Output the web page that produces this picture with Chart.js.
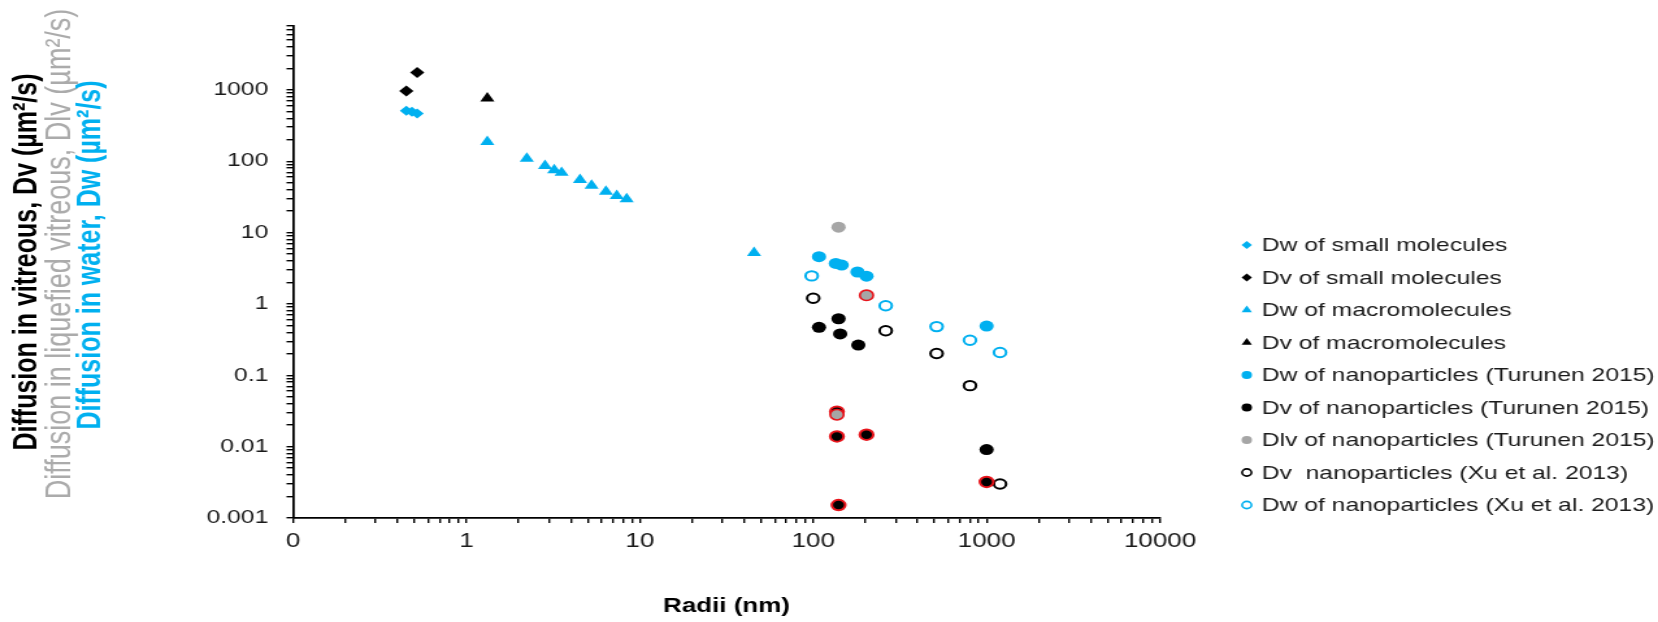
<!DOCTYPE html>
<html>
<head>
<meta charset="utf-8">
<script src="https://cdn.jsdelivr.net/npm/chart.js@4.4.1/dist/chart.umd.min.js"></script>
<style>
html,body{margin:0;padding:0;background:#fff;overflow:hidden;}
#wrap{position:absolute;left:0;top:0;width:1276px;height:622px;transform:scaleX(1.2994);transform-origin:0 0;}
</style>
</head>
<body>
<div id="wrap"><canvas id="c"></canvas></div>
<script>
const FONT = '"Liberation Sans", Arial, Helvetica, sans-serif';

// Tick labels (one per decade)
const xTickLabels = ['0', '1', '10', '100', '1000', '10000'];      // 0.1 ... 10000
const yTickLabels = ['0.001', '0.01', '0.1', '1', '10', '100', '1000'];

// Axis titles
const xTitle = 'Radii (nm)';
const yTitleBlack = 'Diffusion in vitreous, Dv (µm²/s)';
const yTitleGrey = 'Diffusion in liquefied vitreous, Dlv (µm²/s)';
const yTitleBlue = 'Diffusion in water, Dw (µm²/s)';

// Series names
const seriesNames = [
  'Dw of small molecules',
  'Dv of small molecules',
  'Dw of macromolecules',
  'Dv of macromolecules',
  'Dw of nanoparticles (Turunen 2015)',
  'Dv of nanoparticles (Turunen 2015)',
  'Dlv of nanoparticles (Turunen 2015)',
  'Dv  nanoparticles (Xu et al. 2013)',
  'Dw of nanoparticles (Xu et al. 2013)'
];

// Data: [radius nm, diffusion µm²/s]
const dwSmallMolecules = [[0.45, 510], [0.485, 495], [0.52, 465]];
const dvSmallMolecules = [[0.45, 960], [0.52, 1750]];
const dwMacromolecules = [[1.32, 187], [2.23, 109], [2.84, 86], [3.21, 75], [3.54, 69], [4.52, 55],
                          [5.27, 45.5], [6.38, 37.6], [7.36, 32.7], [8.4, 29.4], [45.6, 5.2]];
const dvMacromolecules = [[1.32, 760]];
const dwNanoTurunen = [[108, 4.6], [135, 3.7], [146, 3.5], [180, 2.8], [203, 2.45], [1000, 0.49]];
const dvNanoTurunen = [[140, 0.62], [108, 0.47], [143, 0.38], [182, 0.265], [1000, 0.0091]];
const dlvNanoTurunen = [[140, 11.9]];
const dvNanoTurunenMarked = [[137, 0.031], [137, 0.0139], [203, 0.0147], [140, 0.00152], [1000, 0.0032]];
const dlvNanoTurunenMarked = [[203, 1.32], [137, 0.028]];
const dvNanoXu = [[100, 1.2], [262, 0.42], [515, 0.202], [802, 0.0716], [1195, 0.0030]];
const dwNanoXu = [[98, 2.47], [262, 0.944], [515, 0.481], [802, 0.31], [1195, 0.209]];

const BLUE = '#00B0F0', BLACK = '#000000', GREY = '#A6A6A6', RED = '#E8141B';

const pts = arr => arr.map(p => ({x: p[0], y: p[1]}));

function ds(label, data, style, fill, stroke, r, bw, inLegend) {
  return {
    label, data: pts(data), pointStyle: style,
    backgroundColor: fill, borderColor: stroke,
    pointBackgroundColor: fill, pointBorderColor: stroke,
    pointRadius: r, pointBorderWidth: bw, pointHoverRadius: r,
    showLine: false, inLegend
  };
}

const datasets = [
  ds(seriesNames[0], dwSmallMolecules, 'rectRot', BLUE, BLUE, 5, 0, true),
  ds(seriesNames[1], dvSmallMolecules, 'rectRot', BLACK, BLACK, 5.5, 0, true),
  ds(seriesNames[2], dwMacromolecules, 'triangle', BLUE, BLUE, 6.3, 0, true),
  ds(seriesNames[3], dvMacromolecules, 'triangle', BLACK, BLACK, 6.3, 0, true),
  ds(seriesNames[4], dwNanoTurunen, 'circle', BLUE, BLUE, 5.5, 0, true),
  ds('Dlv (marked)', dlvNanoTurunenMarked, 'circle', GREY, RED, 5.2, 1.6, false),
  ds('Dv (marked)', dvNanoTurunenMarked, 'circle', BLACK, RED, 5.2, 2, false),
  ds(seriesNames[5], dvNanoTurunen, 'circle', BLACK, BLACK, 5.5, 0, true),
  ds(seriesNames[6], dlvNanoTurunen, 'circle', GREY, GREY, 5.5, 0, true),
  ds(seriesNames[7], dvNanoXu, 'circle', '#FFFFFF', BLACK, 4.7, 2, true),
  ds(seriesNames[8], dwNanoXu, 'circle', '#FFFFFF', BLUE, 4.7, 2, true)
];

function logTicks(min, max) {
  const out = [];
  const e0 = Math.floor(Math.log10(min) + 1e-9), e1 = Math.ceil(Math.log10(max) - 1e-9);
  for (let e = e0; e <= e1; e++) {
    for (let k = 1; k <= 9; k++) {
      const v = k * Math.pow(10, e);
      if (v >= min * 0.999999 && v <= max * 1.000001) out.push({value: v, major: k === 1});
    }
  }
  return out;
}
function decadeLabel(v, labels, firstExp) {
  const e = Math.log10(v);
  const r = Math.round(e);
  if (Math.abs(e - r) < 1e-6) { const l = labels[r - firstExp]; return l === undefined ? '' : l; }
  return '';
}

function drawMarker(ctx, style, r, x, y, fill, stroke, lw) {
  ctx.beginPath();
  if (style === 'circle') {
    ctx.arc(x, y, r, 0, Math.PI * 2);
  } else if (style === 'rectRot') {
    ctx.moveTo(x, y - r); ctx.lineTo(x + r, y); ctx.lineTo(x, y + r); ctx.lineTo(x - r, y);
  } else if (style === 'triangle') {
    let a = 0;
    ctx.moveTo(x + Math.sin(a) * r, y - Math.cos(a) * r);
    a += Math.PI * 2 / 3; ctx.lineTo(x + Math.sin(a) * r, y - Math.cos(a) * r);
    a += Math.PI * 2 / 3; ctx.lineTo(x + Math.sin(a) * r, y - Math.cos(a) * r);
  }
  ctx.closePath();
  ctx.fillStyle = fill; ctx.fill();
  if (lw > 0) { ctx.lineWidth = lw; ctx.strokeStyle = stroke; ctx.stroke(); }
}

const bgPlugin = {
  id: 'bg',
  beforeDraw(chart) {
    const c = chart.ctx; c.save(); c.fillStyle = '#fff';
    c.fillRect(0, 0, chart.width, chart.height); c.restore();
  }
};

const yTitlePlugin = {
  id: 'yTitles',
  afterDraw(chart) {
    const c = chart.ctx;
    const lines = [
      {t: yTitleBlack, color: BLACK, font: 'bold 25px ' + FONT, x: 21, y: 262},
      {t: yTitleGrey, color: '#ABABAB', font: '27px ' + FONT, x: 47, y: 254},
      {t: yTitleBlue, color: BLUE, font: 'bold 25px ' + FONT, x: 70, y: 255}
    ];
    lines.forEach(l => {
      c.save();
      c.translate(l.x, l.y);
      c.rotate(-Math.PI / 2);
      c.font = l.font; c.fillStyle = l.color;
      c.textAlign = 'center'; c.textBaseline = 'middle';
      c.fillText(l.t, 0, 0);
      c.restore();
    });
  }
};

const legendPlugin = {
  id: 'sideLegend',
  afterDraw(chart) {
    const c = chart.ctx;
    const items = chart.data.datasets.filter(d => d.inLegend);
    const mx = 959.5, tx = 971, y0 = 245, dy = 32.5;
    items.forEach((d, i) => {
      const y = y0 + i * dy;
      c.save();
      const hollow = d.pointBackgroundColor === '#FFFFFF';
      const r = d.pointStyle === 'triangle' ? 4.6 : (hollow ? 3.6 : 4);
      drawMarker(c, d.pointStyle, r, mx, y, d.pointBackgroundColor, d.pointBorderColor, hollow ? 1.6 : 0);
      c.font = '19px ' + FONT; c.fillStyle = '#1a1a1a';
      c.textAlign = 'left'; c.textBaseline = 'middle';
      c.fillText(d.label, tx, y + 1);
      c.restore();
    });
  }
};

const axisCommon = {
  grid: {display: true, drawOnChartArea: false, drawTicks: true, tickLength: 5, color: '#000', tickColor: '#000', lineWidth: 1.4},
  border: {display: true, color: '#000', width: 1.8}
};

new Chart(document.getElementById('c'), {
  type: 'scatter',
  data: {datasets},
  plugins: [bgPlugin, yTitlePlugin, legendPlugin],
  options: {
    responsive: true,
    maintainAspectRatio: false,
    animation: false,
    events: [],
    layout: {padding: {left: 0, top: 23.5, right: 383.3, bottom: 0}},
    plugins: {legend: {display: false}, tooltip: {enabled: false}},
    scales: {
      x: Object.assign({}, axisCommon, {
        type: 'logarithmic', position: 'bottom', min: 0.1, max: 10000,
        afterFit(s) { s.height = 104; },
        afterBuildTicks(s) { s.ticks = logTicks(0.1, 10000); },
        ticks: {autoSkip: false, maxRotation: 0, minRotation: 0, padding: 6, color: '#1a1a1a',
                font: {family: FONT, size: 20},
                callback: v => decadeLabel(v, xTickLabels, -1)},
        title: {display: true, text: xTitle, color: '#000',
                font: {family: FONT, size: 20, weight: 'bold'}, padding: {top: 0, bottom: 4}}
      }),
      y: Object.assign({}, axisCommon, {
        type: 'logarithmic', position: 'left', min: 0.001, max: 8000,
        afterFit(s) { s.width = 225.5; },
        afterBuildTicks(s) { s.ticks = logTicks(0.001, 8000); },
        ticks: {autoSkip: false, padding: 14, color: '#1a1a1a',
                font: {family: FONT, size: 19},
                callback: v => decadeLabel(v, yTickLabels, -3)}
      })
    }
  }
});
</script>
</body>
</html>
